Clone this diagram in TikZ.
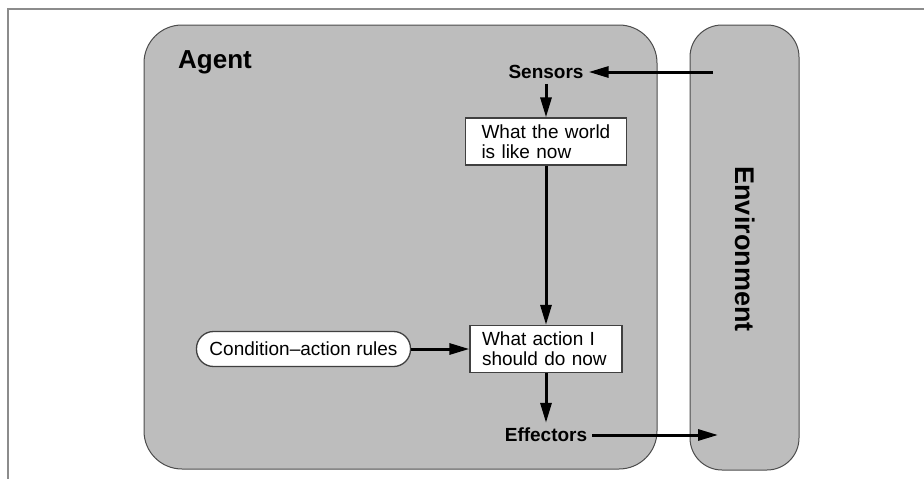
\documentclass[tikz,border=0pt]{standalone}
\usepackage{fontspec}
\setmainfont{Liberation Sans}
\usetikzlibrary{arrows.meta}
\definecolor{agentgray}{RGB}{189,189,189}

\begin{document}
\begin{tikzpicture}[x=1pt,y=-1pt,
	panel/.style={draw=black!70,line width=1pt,fill=agentgray},
	iolabel/.style={font=\fontsize{19}{20}\selectfont\bfseries,inner sep=5pt},
	textbox/.style={draw=black!75,line width=1.3pt,fill=white,font=\fontsize{19}{20}\selectfont,align=left,inner ysep=6.5pt},
	flow/.style={line width=3pt,-{Triangle[length=20pt,width=11pt]}}]
	\useasboundingbox (0,0) rectangle (924,479);
	\draw[black!45,line width=1.5pt] (8,479) -- (8,9) -- (924,9);
	\draw[panel,rounded corners=38pt] (144,25) rectangle (657,469);
	\draw[panel,rounded corners=32pt] (690,25) rectangle (799,470);
	\node[anchor=base west,inner sep=0pt,font=\fontsize{26}{28}\selectfont\bfseries] (agent) at (178,68){Agent};
	\node[rotate=-90,font=\fontsize{27}{28}\selectfont\bfseries] (env) at (745,249){Environment};
	\node[iolabel] (sensors) at (546,72){Sensors};
	\node[textbox,text width=129pt,inner xsep=16pt] (world) at (546,141.5){What the world\\is like now};
	\node[textbox,text width=128pt,inner xsep=12pt] (action) at (546,349){What action I\\should do now};
	\node[textbox,rounded corners=17pt,minimum height=35pt,inner xsep=13pt,inner ysep=3pt] (rules) at (303.5,349){Condition–action rules};
	\node[iolabel] (effectors) at (546,435){Effectors};
	\coordinate (percept) at (713,72);
	\coordinate (act) at (718,435);
	\draw[flow] (percept) -- (sensors);
	\draw[flow] (sensors) -- (world);
	\draw[flow] (world) -- (action);
	\draw[flow] (rules) -- (action);
	\draw[flow] (action) -- (effectors);
	\draw[flow] (effectors) -- (act);
\end{tikzpicture}
\end{document}
